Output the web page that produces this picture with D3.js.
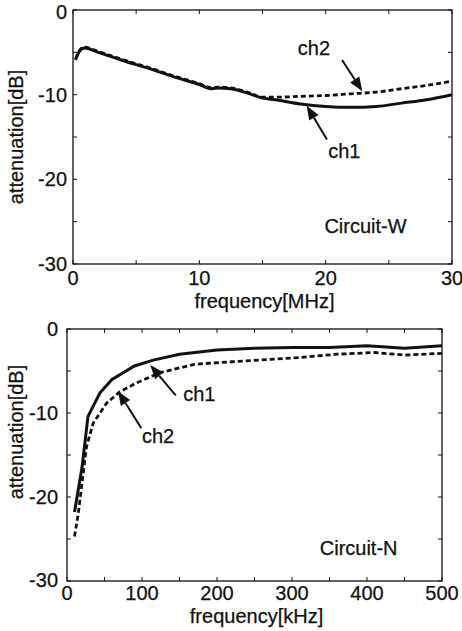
<!DOCTYPE html>
<html>
<head>
<meta charset="utf-8">
<script src="https://cdn.jsdelivr.net/npm/d3@7"></script>
<style>
  body { margin: 0; background: #fff; }
  text { font-family: "Liberation Sans", Arial, sans-serif; fill: #111; stroke: #111; stroke-width: 0.25; }
</style>
</head>
<body>
<div id="chart"></div>
<script>
// ---- data: top panel (Circuit-W), frequency in MHz, attenuation in dB
var wFreq1 = [0.2, 0.5, 0.9, 2, 4, 6, 8, 10, 11, 11.5, 12.5, 14, 15, 16, 18, 20, 22, 24, 26, 28, 30];
var wCh1   = [-5.9, -4.9, -4.5, -5.0, -6.0, -6.9, -7.9, -8.8, -9.3, -9.2, -9.3, -9.9, -10.4, -10.6, -11.1, -11.4, -11.5, -11.4, -11.0, -10.6, -10.0];
var wFreq2 = [0.2, 0.5, 0.9, 2, 4, 6, 8, 10, 11, 11.5, 12.5, 14, 15, 16, 18, 20, 22, 24, 26, 28, 30];
var wCh2   = [-5.8, -4.8, -4.4, -4.9, -5.9, -6.8, -7.8, -8.7, -9.2, -9.1, -9.2, -9.8, -10.3, -10.3, -10.2, -10.1, -9.9, -9.7, -9.3, -8.9, -8.4];

// ---- data: bottom panel (Circuit-N), frequency in kHz
var nFreq1 = [10, 20, 28, 44, 60, 90, 115, 150, 200, 250, 300, 350, 400, 420, 450, 500];
var nCh1   = [-21.8, -16.5, -10.4, -7.6, -6.0, -4.4, -3.7, -3.0, -2.5, -2.3, -2.2, -2.2, -2.0, -2.1, -2.3, -2.0];
var nFreq2 = [10, 15, 26, 35, 53, 70, 93, 124, 170, 220, 310, 360, 410, 450, 500];
var nCh2   = [-24.7, -22.0, -14.0, -11.2, -8.8, -7.5, -6.4, -5.2, -4.2, -3.9, -3.4, -3.0, -2.8, -3.1, -2.9];

// tick values
var wXTicks = [0, 10, 20, 30];
var nXTicks = [0, 100, 200, 300, 400, 500];
var yTicks = [0, -10, -20, -30];

// annotations: [label, labelX, labelY, tailX, tailY, tipX, tipY] in data units
var wNotes = [
  ["ch2", 17.8, -5.3, 21.3, -5.9, 22.9, -9.6],
  ["ch1", 20.2, -17.5, 20.1, -15.3, 18.5, -11.3]
];
var nNotes = [
  ["ch1", 155, -8.6, 145, -7.9, 111, -4.3],
  ["ch2", 100, -13.6, 99, -11.8, 68, -7.4]
];

var svg = d3.select("#chart").append("svg")
  .attr("width", 462)
  .attr("height", 631);

var FS = 20;

// draw one panel
function panel(opt) {
  var g = svg.append("g")
    .attr("transform", "translate(" + opt.left + "," + opt.top + ")");

  var x = d3.scaleLinear().domain(opt.xDomain).range([0, opt.width]);
  var y = d3.scaleLinear().domain([-30, 0]).range([opt.height, 0]);

  // inward minor ticks on all four sides
  var xm = d3.range(opt.xDomain[0], opt.xDomain[1] + 0.001, opt.xStep);
  var ym = d3.range(-30, 0.001, 5);
  g.selectAll(".xt").data(xm).enter().append("path")
    .attr("d", function(d) {
      return "M" + x(d) + "," + opt.height + "v-4M" + x(d) + ",0v4";
    })
    .attr("stroke", "#111").attr("stroke-width", 1);
  g.selectAll(".yt").data(ym).enter().append("path")
    .attr("d", function(d) {
      return "M0," + y(d) + "h4M" + opt.width + "," + y(d) + "h-4";
    })
    .attr("stroke", "#111").attr("stroke-width", 1);

  // frame
  g.append("rect")
    .attr("width", opt.width).attr("height", opt.height)
    .attr("fill", "none").attr("stroke", "#111").attr("stroke-width", 1.3);

  // tick labels
  g.selectAll(".xl").data(opt.xTicks).enter().append("text")
    .attr("x", function(d) { return x(d); })
    .attr("y", opt.height + opt.xLabelDy)
    .attr("text-anchor", "middle")
    .attr("font-size", FS)
    .text(function(d) { return d; });
  g.selectAll(".yl").data(yTicks).enter().append("text")
    .attr("x", opt.yLabelDx)
    .attr("y", function(d) {
      if (d === -30) return y(d) + opt.y30Dy;
      if (d === 0) return y(d) + opt.y0Dy;
      return y(d) + 7;
    })
    .attr("text-anchor", "end")
    .attr("font-size", FS)
    .text(function(d) { return d; });

  // axis titles
  g.append("text")
    .attr("x", opt.width / 2 + 2)
    .attr("y", opt.height + opt.xTitleDy)
    .attr("text-anchor", "middle")
    .attr("font-size", FS)
    .text(opt.xTitle);
  g.append("text")
    .attr("transform", "translate(" + opt.yTitleX + "," + opt.yTitleY + ") rotate(-90)")
    .attr("text-anchor", "middle")
    .attr("font-size", FS)
    .text("attenuation[dB]");

  var line = d3.line()
    .x(function(d) { return x(d[0]); })
    .y(function(d) { return y(d[1]); })
    .curve(opt.curve);

  g.append("path")
    .datum(d3.zip(opt.f2, opt.c2))
    .attr("d", line)
    .attr("fill", "none").attr("stroke", "#111")
    .attr("stroke-width", 2.8)
    .attr("stroke-dasharray", "5,3");
  g.append("path")
    .datum(d3.zip(opt.f1, opt.c1))
    .attr("d", line)
    .attr("fill", "none").attr("stroke", "#111")
    .attr("stroke-width", 3);

  // arrows and labels
  opt.notes.forEach(function(n) {
    var x0 = x(n[3]), y0 = y(n[4]), x1 = x(n[5]), y1 = y(n[6]);
    var a = Math.atan2(y1 - y0, x1 - x0);
    var L = 14, W = 5.5;
    var bx = x1 - L * Math.cos(a), by = y1 - L * Math.sin(a);
    g.append("line")
      .attr("x1", x0).attr("y1", y0).attr("x2", bx).attr("y2", by)
      .attr("stroke", "#111").attr("stroke-width", 2);
    g.append("path")
      .attr("d", "M" + x1 + "," + y1 +
        "L" + (bx + W * Math.sin(a)) + "," + (by - W * Math.cos(a)) +
        "L" + (bx - W * Math.sin(a)) + "," + (by + W * Math.cos(a)) + "Z")
      .attr("fill", "#111");
    g.append("text")
      .attr("x", x(n[1])).attr("y", y(n[2]))
      .attr("font-size", FS)
      .text(n[0]);
  });

  g.append("text")
    .attr("x", x(opt.circuit[1])).attr("y", y(opt.circuit[2]))
    .attr("font-size", FS)
    .text(opt.circuit[0]);
}

panel({
  left: 73, top: 10, width: 379, height: 254,
  xDomain: [0, 30], xStep: 5, xTicks: wXTicks,
  xLabelDy: 21, xTitleDy: 44, xTitle: "frequency[MHz]",
  yLabelDx: -6, y30Dy: 7, y0Dy: 9,
  yTitleX: -50, yTitleY: 127,
  f1: wFreq1, c1: wCh1, f2: wFreq2, c2: wCh2,
  curve: d3.curveMonotoneX,
  notes: wNotes,
  circuit: ["Circuit-W", 19.9, -26.3]
});

panel({
  left: 67, top: 329, width: 375, height: 252,
  xDomain: [0, 500], xStep: 50, xTicks: nXTicks,
  xLabelDy: 19, xTitleDy: 42, xTitle: "frequency[kHz]",
  yLabelDx: -9, y30Dy: 6, y0Dy: 7,
  yTitleX: -44, yTitleY: 103,
  f1: nFreq1, c1: nCh1, f2: nFreq2, c2: nCh2,
  curve: d3.curveLinear,
  notes: nNotes,
  circuit: ["Circuit-N", 337, -26.9]
});
</script>
</body>
</html>
